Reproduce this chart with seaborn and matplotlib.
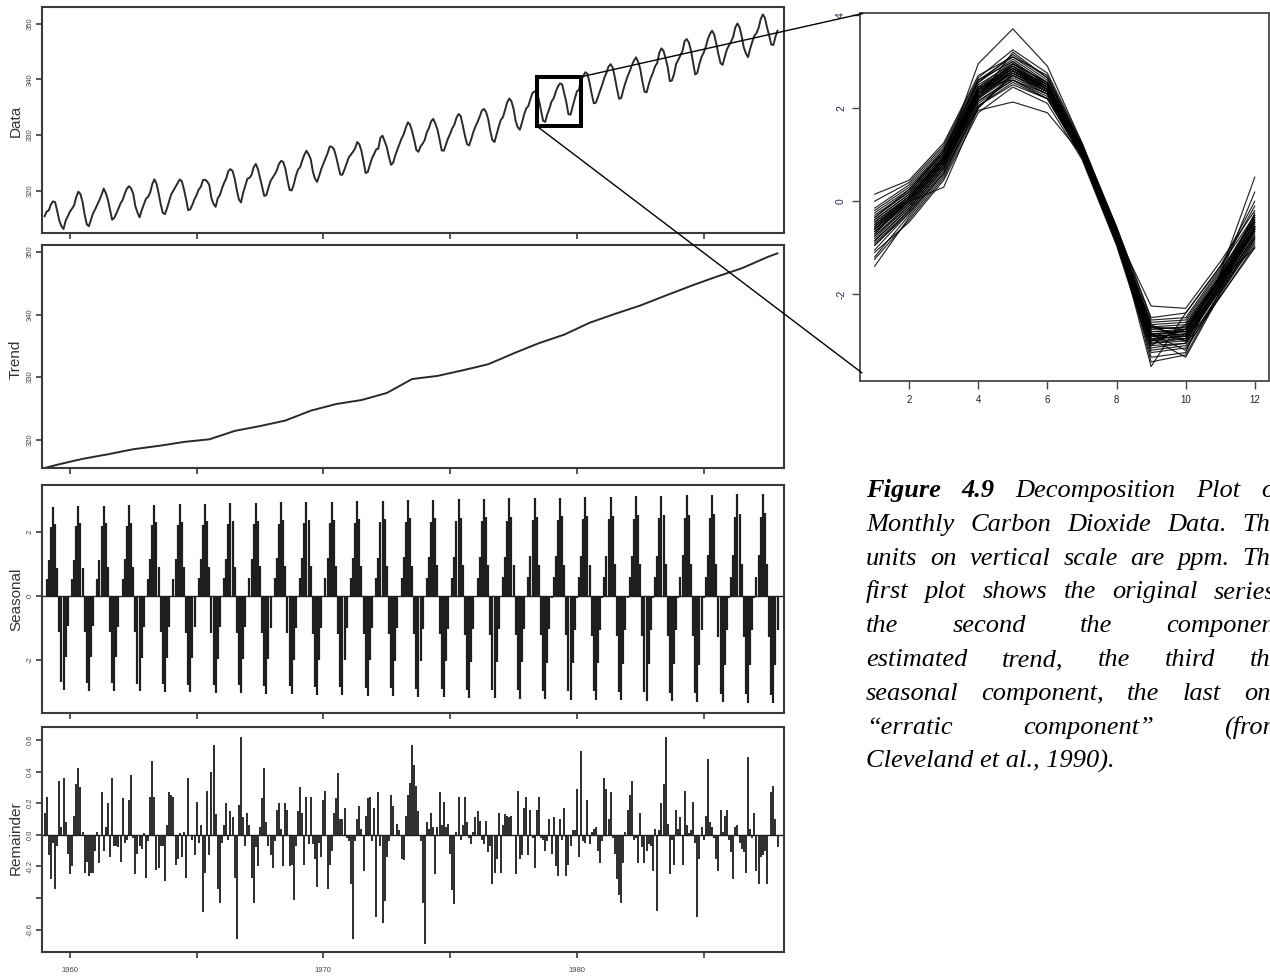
import numpy as np
import pandas as pd
import matplotlib
matplotlib.use("Agg")
import matplotlib.pyplot as plt
import seaborn as sns
from matplotlib.patches import Rectangle, ConnectionPatch

# ---------------------------------------------------------------------------
# Monthly CO2 concentrations (ppm), Mauna Loa, 1959-1987, one row per year
# ---------------------------------------------------------------------------
first_year = 1959
co2_rows = [
    [315.42, 316.31, 316.50, 317.56, 318.13, 318.00, 316.39, 314.65, 313.68, 313.18, 314.66, 315.43],
    [316.27, 316.81, 317.42, 318.87, 319.87, 319.43, 318.01, 315.74, 314.00, 313.68, 314.84, 316.03],
    [316.73, 317.54, 318.38, 319.31, 320.42, 319.61, 318.42, 316.63, 314.83, 315.16, 315.94, 316.85],
    [317.78, 318.40, 319.53, 320.42, 320.85, 320.45, 319.45, 317.25, 316.11, 315.27, 316.53, 317.53],
    [318.58, 318.92, 319.70, 321.22, 322.08, 321.31, 319.58, 317.61, 316.05, 315.83, 316.91, 318.20],
    [319.41, 320.07, 320.74, 321.40, 322.06, 321.73, 320.27, 318.54, 316.54, 316.71, 317.53, 318.55],
    [319.27, 320.28, 320.73, 321.97, 322.00, 321.71, 321.05, 318.71, 317.66, 317.14, 318.70, 319.25],
    [320.46, 321.43, 322.23, 323.54, 323.91, 323.59, 322.24, 320.20, 318.48, 317.94, 319.63, 320.87],
    [322.17, 322.34, 322.88, 324.25, 324.83, 323.93, 322.38, 320.76, 319.10, 319.24, 320.56, 321.80],
    [322.40, 322.99, 323.73, 324.86, 325.40, 325.20, 323.98, 321.95, 320.18, 320.09, 321.16, 322.74],
    [323.83, 324.26, 325.47, 326.50, 327.21, 326.54, 325.72, 323.50, 322.22, 321.62, 322.69, 323.95],
    [324.89, 325.82, 326.77, 327.97, 327.91, 327.50, 326.18, 324.53, 322.93, 322.90, 323.85, 324.96],
    [326.01, 326.51, 327.01, 327.62, 328.76, 328.40, 327.20, 325.27, 323.20, 323.40, 324.63, 325.85],
    [326.60, 327.47, 327.58, 329.56, 329.90, 328.92, 327.88, 326.16, 324.68, 325.04, 326.34, 327.39],
    [328.37, 329.40, 330.14, 331.33, 332.31, 331.90, 330.70, 329.15, 327.35, 327.02, 327.99, 328.48],
    [329.18, 330.55, 331.32, 332.48, 332.92, 332.08, 331.01, 329.23, 327.27, 327.21, 328.29, 329.41],
    [330.23, 331.25, 331.87, 333.14, 333.80, 333.43, 331.73, 329.90, 328.40, 328.17, 329.32, 330.59],
    [331.58, 332.39, 333.33, 334.41, 334.71, 334.17, 332.89, 330.77, 329.14, 328.78, 330.14, 331.52],
    [332.75, 333.24, 334.53, 335.90, 336.57, 336.10, 334.76, 332.59, 331.42, 330.98, 332.24, 333.68],
    [334.80, 335.22, 336.47, 337.59, 337.84, 337.72, 336.37, 334.51, 332.60, 332.38, 333.75, 334.78],
    [336.05, 336.59, 337.79, 338.71, 339.30, 339.12, 337.56, 335.92, 333.75, 333.70, 335.12, 336.56],
    [337.84, 338.19, 339.91, 340.60, 341.29, 341.00, 339.39, 337.43, 335.72, 335.84, 336.93, 338.04],
    [339.06, 340.30, 341.21, 342.33, 342.74, 342.08, 340.32, 338.26, 336.52, 336.68, 338.19, 339.44],
    [340.57, 341.44, 342.53, 343.39, 343.96, 343.18, 341.88, 339.65, 337.81, 337.69, 339.09, 340.32],
    [341.20, 342.35, 342.93, 344.77, 345.58, 345.14, 343.81, 342.21, 339.69, 339.82, 340.98, 342.82],
    [343.52, 344.33, 345.11, 346.88, 347.25, 346.62, 345.22, 343.11, 340.90, 341.18, 342.80, 344.04],
    [344.79, 345.82, 347.25, 348.17, 348.74, 348.07, 346.38, 344.51, 342.92, 342.62, 344.06, 345.38],
    [346.11, 346.78, 347.68, 349.37, 350.03, 349.37, 347.76, 345.73, 344.68, 343.99, 345.48, 346.72],
    [347.84, 348.29, 349.23, 350.80, 351.66, 351.07, 349.33, 347.92, 346.27, 346.18, 347.64, 348.78],
]

# Trend component, sampled every half year (decimal year, ppm)
trend_time = [1959.0, 1959.5, 1960.0, 1960.5, 1961.0, 1961.5, 1962.0, 1962.5, 1963.0, 1963.5,
              1964.0, 1964.5, 1965.0, 1965.5, 1966.0, 1966.5, 1967.0, 1967.5, 1968.0, 1968.5,
              1969.0, 1969.5, 1970.0, 1970.5, 1971.0, 1971.5, 1972.0, 1972.5, 1973.0, 1973.5,
              1974.0, 1974.5, 1975.0, 1975.5, 1976.0, 1976.5, 1977.0, 1977.5, 1978.0, 1978.5,
              1979.0, 1979.5, 1980.0, 1980.5, 1981.0, 1981.5, 1982.0, 1982.5, 1983.0, 1983.5,
              1984.0, 1984.5, 1985.0, 1985.5, 1986.0, 1986.5, 1987.0, 1987.5, 1987.92]
trend_value = [315.45, 315.97, 316.45, 316.91, 317.28, 317.64, 318.05, 318.45, 318.72, 318.99,
               319.30, 319.62, 319.83, 320.04, 320.70, 321.38, 321.77, 322.16, 322.60, 323.04,
               323.83, 324.62, 325.15, 325.68, 326.00, 326.32, 326.88, 327.45, 328.56, 329.68,
               329.93, 330.18, 330.63, 331.08, 331.56, 332.05, 332.90, 333.78, 334.60, 335.41,
               336.10, 336.78, 337.73, 338.68, 339.39, 340.10, 340.77, 341.44, 342.23, 343.03,
               343.80, 344.58, 345.31, 346.04, 346.71, 347.39, 348.27, 349.16, 349.80]

# Seasonal component (ppm), one row per year, Jan..Dec
seasonal_rows = [
    [-0.05, 0.52, 1.12, 2.15, 2.78, 2.25, 0.88, -1.12, -2.70, -2.94, -1.90, -0.95],
    [-0.05, 0.52, 1.13, 2.16, 2.79, 2.26, 0.88, -1.13, -2.71, -2.95, -1.91, -0.95],
    [-0.05, 0.53, 1.13, 2.17, 2.81, 2.27, 0.89, -1.13, -2.73, -2.97, -1.92, -0.96],
    [-0.05, 0.53, 1.14, 2.18, 2.82, 2.28, 0.89, -1.14, -2.74, -2.98, -1.93, -0.96],
    [-0.05, 0.53, 1.14, 2.19, 2.84, 2.30, 0.90, -1.14, -2.75, -3.00, -1.94, -0.97],
    [-0.05, 0.53, 1.15, 2.20, 2.85, 2.31, 0.90, -1.15, -2.77, -3.01, -1.95, -0.97],
    [-0.05, 0.54, 1.15, 2.21, 2.86, 2.32, 0.91, -1.15, -2.78, -3.03, -1.96, -0.98],
    [-0.05, 0.54, 1.16, 2.23, 2.88, 2.33, 0.91, -1.16, -2.79, -3.04, -1.97, -0.98],
    [-0.05, 0.54, 1.16, 2.24, 2.89, 2.34, 0.92, -1.16, -2.81, -3.06, -1.98, -0.99],
    [-0.05, 0.54, 1.17, 2.25, 2.91, 2.35, 0.92, -1.17, -2.82, -3.07, -1.99, -0.99],
    [-0.05, 0.55, 1.18, 2.26, 2.92, 2.36, 0.92, -1.18, -2.84, -3.09, -2.00, -1.00],
    [-0.05, 0.55, 1.18, 2.27, 2.93, 2.37, 0.93, -1.18, -2.85, -3.10, -2.00, -1.00],
    [-0.05, 0.55, 1.19, 2.28, 2.95, 2.39, 0.93, -1.19, -2.86, -3.12, -2.01, -1.01],
    [-0.05, 0.55, 1.19, 2.29, 2.96, 2.40, 0.94, -1.19, -2.88, -3.13, -2.02, -1.01],
    [-0.05, 0.56, 1.20, 2.30, 2.97, 2.41, 0.94, -1.20, -2.89, -3.15, -2.03, -1.02],
    [-0.05, 0.56, 1.20, 2.31, 2.99, 2.42, 0.95, -1.20, -2.90, -3.16, -2.04, -1.02],
    [-0.05, 0.56, 1.21, 2.32, 3.00, 2.43, 0.95, -1.21, -2.92, -3.18, -2.05, -1.03],
    [-0.05, 0.56, 1.22, 2.33, 3.02, 2.44, 0.95, -1.22, -2.93, -3.19, -2.06, -1.03],
    [-0.05, 0.57, 1.22, 2.34, 3.03, 2.45, 0.96, -1.22, -2.94, -3.20, -2.07, -1.04],
    [-0.05, 0.57, 1.23, 2.35, 3.04, 2.46, 0.96, -1.23, -2.96, -3.22, -2.08, -1.04],
    [-0.06, 0.57, 1.23, 2.37, 3.06, 2.48, 0.97, -1.23, -2.97, -3.23, -2.09, -1.05],
    [-0.06, 0.57, 1.24, 2.38, 3.07, 2.49, 0.97, -1.24, -2.98, -3.25, -2.10, -1.05],
    [-0.06, 0.58, 1.24, 2.39, 3.09, 2.50, 0.98, -1.24, -3.00, -3.26, -2.11, -1.05],
    [-0.06, 0.58, 1.25, 2.40, 3.10, 2.51, 0.98, -1.25, -3.01, -3.28, -2.12, -1.06],
    [-0.06, 0.58, 1.25, 2.41, 3.11, 2.52, 0.99, -1.25, -3.02, -3.29, -2.13, -1.06],
    [-0.06, 0.59, 1.26, 2.42, 3.13, 2.53, 0.99, -1.26, -3.04, -3.31, -2.14, -1.07],
    [-0.06, 0.59, 1.27, 2.43, 3.14, 2.54, 0.99, -1.27, -3.05, -3.32, -2.15, -1.07],
    [-0.06, 0.59, 1.27, 2.44, 3.16, 2.55, 1.00, -1.27, -3.06, -3.34, -2.16, -1.08],
    [-0.06, 0.59, 1.28, 2.45, 3.17, 2.57, 1.00, -1.28, -3.08, -3.35, -2.17, -1.08],
]

# Remainder component (ppm), monthly, in three consecutive stretches
remainder_1959_1968 = [
    0.14, 0.24, -0.13, -0.28, -0.05, -0.34, -0.07, 0.34, 0.05, 0.36, 0.08, -0.12,
    -0.25, -0.20, 0.12, 0.32, 0.42, 0.30, 0.02, -0.24, -0.17, -0.26, -0.24, -0.24,
    -0.10, 0.02, -0.18, 0.27, -0.10, 0.05, 0.20, -0.14, 0.36, -0.07, -0.07, -0.08,
    -0.17, 0.23, -0.05, -0.03, 0.22, 0.38, -0.02, -0.25, -0.12, -0.07, -0.09, 0.01,
    -0.27, -0.04, 0.24, 0.47, 0.24, -0.22, -0.21, -0.07, -0.07, -0.29, 0.06, 0.27,
    0.25, 0.24, -0.19, -0.15, 0.01, -0.14, 0.02, -0.27, 0.36, 0.00, -0.03, -0.13,
    0.21, -0.05, 0.06, -0.49, -0.24, 0.28, -0.13, 0.40, 0.57, 0.13, -0.34, -0.43,
    -0.05, 0.06, 0.20, -0.03, 0.15, 0.11, -0.27, -0.66, 0.19, 0.62, 0.11, -0.07,
    0.14, 0.06, -0.27, -0.43, -0.08, -0.20, 0.05, 0.23, 0.42, 0.08, -0.07, -0.13,
    -0.21, -0.04, 0.16, 0.20, 0.04, -0.20, 0.20, 0.16, -0.20,
]
remainder_1968_1978 = [
    -0.19, -0.41, -0.07, 0.15, 0.30, 0.14, -0.19, 0.24, -0.06, 0.24, -0.06, -0.15,
    -0.33, -0.05, -0.14, 0.22, 0.28, -0.34, -0.19, -0.10, 0.14, 0.23, 0.39, 0.10,
    0.10, 0.17, -0.02, -0.04, -0.31, -0.66, -0.04, 0.10, 0.18, 0.04, -0.23, 0.12,
    0.23, 0.24, -0.04, 0.17, -0.52, 0.27, -0.07, -0.56, -0.42, -0.14, -0.04, 0.25,
    0.18, 0.00, 0.07, 0.03, -0.15, -0.16, 0.12, 0.25, 0.33, 0.57, 0.44, 0.31,
    0.15, -0.04, -0.43, -0.69, 0.08, 0.04, 0.14, 0.05, -0.25, 0.05, 0.27, 0.06,
    0.21, 0.05, 0.07, -0.12, -0.35, -0.44, 0.02, 0.24, -0.03, 0.06, 0.24, 0.08,
    -0.02, -0.06, 0.02, 0.11, 0.15, 0.09, -0.03, -0.06, 0.09, -0.11, -0.07, -0.31,
    -0.24, -0.15, 0.14, -0.24, 0.06, 0.13, 0.12, 0.11, 0.12, -0.01, -0.25, 0.28,
    -0.15, -0.13, 0.17, 0.24, -0.13, 0.16, -0.02, -0.21,
]
remainder_1978_1987 = [
    0.16, 0.24, -0.02, -0.03, -0.10, -0.04, 0.10, -0.12, 0.11, -0.20, -0.26, 0.10,
    -0.03, 0.17, -0.26, -0.19, -0.07, 0.03, 0.03, 0.29, -0.14, 0.53, -0.04, -0.05,
    0.22, -0.06, 0.02, 0.04, 0.05, -0.10, -0.18, -0.04, 0.36, 0.29, 0.10, 0.27,
    -0.02, -0.12, -0.28, -0.38, -0.43, -0.18, 0.02, 0.16, 0.25, 0.34, -0.03, -0.02,
    -0.18, 0.14, -0.08, -0.18, -0.10, -0.06, -0.07, -0.23, 0.04, -0.48, 0.03, 0.20,
    0.32, 0.62, 0.07, -0.25, -0.03, -0.19, 0.16, 0.04, 0.11, -0.19, 0.28, 0.06,
    0.01, 0.03, 0.21, -0.05, -0.52, -0.15, 0.05, -0.03, 0.12, 0.48, 0.08, 0.05,
    -0.02, -0.15, -0.23, 0.16, 0.02, 0.12, 0.16, -0.03, -0.11, -0.28, 0.05, 0.06,
    -0.05, -0.09, -0.11, -0.24, 0.49, 0.04, -0.02, 0.14, -0.23, -0.31, -0.14, -0.13,
    -0.10, -0.31, 0.00, 0.27, 0.31, 0.10, -0.08,
]

# Detrended monthly cycles, one row per year, months 1..12
cycle_rows = [
    [-0.45, 0.10, 0.95, 2.40, 2.85, 2.45, 1.10, -0.70, -2.80, -2.75, -1.70, -0.45],
    [-0.60, 0.00, 0.85, 2.30, 2.75, 2.40, 1.05, -0.75, -2.90, -2.85, -1.75, -0.55],
    [-0.75, -0.10, 0.80, 2.25, 2.70, 2.35, 1.00, -0.80, -2.95, -2.90, -1.80, -0.60],
    [-0.30, 0.20, 1.05, 2.50, 2.95, 2.55, 1.15, -0.65, -2.70, -2.65, -1.60, -0.35],
    [-0.90, -0.20, 0.70, 2.15, 2.60, 2.30, 0.95, -0.85, -3.05, -3.00, -1.90, -0.70],
    [-0.55, 0.05, 0.90, 2.35, 2.80, 2.45, 1.10, -0.70, -2.85, -2.80, -1.65, -0.50],
    [-1.40, -0.35, 0.55, 2.05, 2.50, 2.20, 0.95, -0.90, -3.20, -3.10, -1.95, -0.80],
    [0.15, 0.45, 1.25, 2.70, 3.10, 2.60, 1.20, -0.55, -2.50, -2.40, -1.40, 0.00],
    [-0.65, -0.05, 0.85, 2.30, 2.90, 2.40, 1.05, -0.75, -2.90, -2.95, -1.80, -0.55],
    [-0.50, 0.10, 0.90, 2.95, 3.70, 2.90, 1.25, -0.60, -3.35, -3.25, -1.55, 0.52],
    [-0.85, -0.15, 0.75, 2.20, 3.20, 2.65, 1.15, -0.70, -2.60, -2.55, -1.50, -0.40],
    [-0.40, 0.15, 1.00, 1.95, 2.13, 1.90, 1.00, -0.80, -3.10, -3.05, -1.85, -0.65],
    [-1.05, -0.25, 0.65, 2.15, 2.65, 2.30, 1.00, -0.85, -3.00, -2.95, -1.85, -0.75],
    [-0.20, 0.30, 1.10, 2.55, 3.05, 2.55, 1.15, -0.65, -2.65, -2.60, -1.55, -0.30],
    [-0.70, 0.00, 0.30, 2.00, 2.75, 2.35, 1.05, -0.75, -2.85, -2.80, -1.70, -0.55],
    [-0.60, 0.05, 0.90, 2.35, 2.85, 2.40, 1.10, -0.70, -3.55, -2.40, -1.40, -0.30],
    [-0.95, -0.20, 0.70, 2.20, 2.70, 2.30, 1.00, -0.80, -2.95, -3.35, -2.00, -0.85],
    [-0.35, 0.20, 1.05, 2.45, 3.00, 2.50, 1.15, -0.65, -2.75, -2.70, -1.65, -0.40],
    [-0.80, -0.10, 0.80, 2.25, 2.80, 2.40, 1.05, -0.75, -2.90, -2.85, -1.80, -0.65],
    [-0.55, 0.05, 0.95, 2.40, 2.90, 2.45, 1.10, -0.70, -2.25, -2.30, -1.30, -0.20],
    [-1.20, -0.30, 0.60, 2.10, 2.60, 2.25, 0.95, -0.90, -3.15, -3.05, -2.05, -0.95],
    [-0.25, 0.25, 1.05, 2.60, 3.00, 2.50, 1.10, -0.65, -2.70, -2.75, -1.60, -0.35],
    [-0.65, 0.00, 0.85, 2.30, 2.80, 2.40, 1.05, -0.75, -2.95, -2.90, -1.75, -0.55],
    [-0.45, 0.10, 0.95, 2.40, 2.85, 2.50, 1.10, -0.70, -2.80, -2.80, -1.70, -0.45],
    [-0.75, -0.05, 0.80, 2.25, 2.75, 2.35, 1.05, -0.80, -3.00, -2.85, -1.80, -0.60],
    [-0.50, 0.05, 0.90, 2.35, 2.95, 2.45, 1.10, -0.70, -2.85, -3.00, -1.85, -0.60],
    [-0.60, 0.00, 0.85, 2.30, 2.85, 2.40, 1.05, -0.75, -2.90, -2.75, -1.70, -1.00],
    [-0.85, -0.15, 0.75, 2.20, 2.80, 2.35, 1.00, -0.80, -3.05, -2.95, -1.90, -0.75],
    [-0.40, 0.15, 1.00, 2.45, 2.90, 2.50, 1.15, -0.70, -2.75, -2.70, -1.65, -0.45],
    [-1.10, -0.45, 0.45, 1.90, 2.45, 2.10, 0.90, -0.95, -3.25, -3.15, -2.05, -1.00],
    [0.00, 0.40, 1.20, 2.65, 3.25, 2.75, 1.25, -0.55, -2.55, -2.50, -1.45, -0.10],
    [-0.70, 0.05, 0.90, 2.40, 2.95, 2.55, 1.10, -0.60, -3.45, -3.30, -1.95, -0.80],
    [-0.35, 0.25, 1.10, 2.55, 3.15, 2.65, 1.20, -0.60, -2.65, -3.00, -1.75, -0.25],
    [-0.95, -0.25, 0.60, 2.05, 2.55, 2.20, 0.95, -0.85, -3.10, -2.65, -1.60, -0.60],
    [-0.55, 0.10, 0.95, 2.45, 2.60, 2.20, 1.05, -0.70, -2.85, -3.20, -1.95, -0.90],
    [-0.15, 0.35, 1.15, 2.60, 3.10, 2.70, 1.20, -0.60, -2.70, -2.90, -1.60, 0.20],
    [-1.25, -0.40, 0.50, 2.00, 2.70, 2.35, 1.00, -0.90, -3.00, -2.75, -1.70, -0.55],
]

panel_names = ["Data", "Trend", "Seasonal", "Remainder"]
year_ticks = [1960, 1965, 1970, 1975, 1980, 1985]
year_labels = ["1960", "", "1970", "", "1980", ""]
cycle_xticks = [2, 4, 6, 8, 10, 12]
cycle_yticks = [-2, 0, 2, 4]

caption_lines = [
    [("Figure", "bold"), ("4.9", "bold"), ("Decomposition", "normal"), ("Plot", "normal"), ("of", "normal")],
    "Monthly Carbon Dioxide Data. The",
    "units on vertical scale are ppm. The",
    "first plot shows the original series,",
    "the second the component",
    "estimated trend, the third the",
    "seasonal component, the last one",
    "\u201cerratic component\u201d (from",
    "Cleveland et al., 1990).",
]

# ---------------------------------------------------------------------------
# Tidy frames
# ---------------------------------------------------------------------------
def monthly_frame(rows):
    vals = np.asarray(rows, dtype=float).ravel()
    t = first_year + np.arange(vals.size) / 12.0
    return pd.DataFrame({"time": t, "value": vals})

df_data = monthly_frame(co2_rows)
df_trend = pd.DataFrame({"time": trend_time, "value": trend_value})
df_seas = monthly_frame(seasonal_rows)
df_rem = monthly_frame(remainder_1959_1968 + remainder_1968_1978 + remainder_1978_1987)

cyc = np.asarray(cycle_rows, dtype=float)
df_cycle = pd.DataFrame({
    "month": np.tile(np.arange(1, 13), cyc.shape[0]),
    "value": cyc.ravel(),
    "year": np.repeat(np.arange(cyc.shape[0]), 12),
})

# ---------------------------------------------------------------------------
# Figure
# ---------------------------------------------------------------------------
sns.set_theme(style="white")
plt.rcParams["font.family"] = ["Liberation Sans", "DejaVu Sans"]

W, H = 1270, 976
fig = plt.figure(figsize=(W / 100, H / 100), dpi=100)


def px_box(left, top, right, bottom):
    return [left / W, 1 - bottom / H, (right - left) / W, (bottom - top) / H]


ink = "#2a2a2a"
frame = "#3a3a3a"

panel_boxes = [(42, 7, 784, 233), (42, 245, 784, 468), (42, 485, 784, 713), (42, 727, 784, 952)]
ylims = [(312.45, 353.0), (315.45, 351.12), (-3.65, 3.45), (-0.741, 0.682)]
yticks = [[320, 330, 340, 350], [320, 330, 340, 350], [-2, 0, 2], [-0.6, -0.4, -0.2, 0.0, 0.2, 0.4, 0.6]]
ytick_labels = [["320", "330", "340", "350"], ["320", "330", "340", "350"], ["-2", "0", "2"],
                ["-0.6", "", "-0.2", "0.0", "0.2", "0.4", "0.6"]]

axes = []
for i, b in enumerate(panel_boxes):
    ax = fig.add_axes(px_box(*b))
    ax.set_xlim(1958.9, 1988.17)
    ax.set_ylim(*ylims[i])
    for s in ax.spines.values():
        s.set_color(frame)
        s.set_linewidth(1.5)
    ax.set_yticks(yticks[i])
    ax.set_yticklabels(ytick_labels[i], rotation=90, va="center", fontsize=5.5, color="#444444")
    ax.set_xticks(year_ticks)
    if i == 3:
        ax.set_xticklabels(year_labels, fontsize=5.5, color="#444444")
    else:
        ax.set_xticklabels([])
    ax.tick_params(axis="both", direction="out", length=4, width=1.2, color=frame, pad=2,
                   left=True, bottom=True)
    ax.tick_params(axis="x", pad=7)
    axes.append(ax)

ax_data, ax_trend, ax_seas, ax_rem = axes

sns.lineplot(data=df_data, x="time", y="value", ax=ax_data, color=ink, linewidth=1.4,
             estimator=None, sort=False)
sns.lineplot(data=df_trend, x="time", y="value", ax=ax_trend, color=ink, linewidth=1.4,
             estimator=None, sort=False)

ax_seas.vlines(df_seas["time"], 0, df_seas["value"], color="#1e1e1e", linewidth=1.6)
ax_seas.axhline(0, color="#1e1e1e", linewidth=1.0)
ax_rem.vlines(df_rem["time"], 0, df_rem["value"], color="#2c2c2c", linewidth=1.4)
ax_rem.axhline(0, color="#1e1e1e", linewidth=1.0)

for ax in axes:
    ax.set_xlabel("")
    ax.set_ylabel("")

label_centres = [121, 359, 599, 838]
for name, yc in zip(panel_names, label_centres):
    fig.text(16 / W, 1 - yc / H, name, rotation=90, ha="center", va="center",
             fontsize=11, color="#333333")

# Highlight box on the data panel
box_x0, box_x1 = 1978.42, 1980.17
box_y0, box_y1 = 331.62, 340.48
ax_data.add_patch(Rectangle((box_x0, box_y0), box_x1 - box_x0, box_y1 - box_y0,
                            fill=False, edgecolor="black", linewidth=2.9, zorder=5))

# Monthly cycle panel on the right
ax_cyc = fig.add_axes(px_box(860, 13.5, 1269, 381))
sns.lineplot(data=df_cycle, x="month", y="value", units="year", estimator=None,
             ax=ax_cyc, color="black", linewidth=0.85, alpha=0.85, sort=False)
ax_cyc.set_xlim(0.58, 12.41)
ax_cyc.set_ylim(-3.86, 4.03)
ax_cyc.set_xticks(cycle_xticks)
ax_cyc.set_xticklabels([str(v) for v in cycle_xticks], fontsize=7, color="#222222")
ax_cyc.set_yticks(cycle_yticks)
ax_cyc.set_yticklabels([str(v) for v in cycle_yticks], rotation=90, va="center",
                       fontsize=7.5, color="#1c2a48")
ax_cyc.tick_params(axis="both", direction="out", length=6, width=1.0, color="#444444",
                   pad=4, left=True, bottom=True)
ax_cyc.set_xlabel("")
ax_cyc.set_ylabel("")
for s in ax_cyc.spines.values():
    s.set_color("#555555")
    s.set_linewidth(1.4)

# Connector lines from the box to the cycle panel
for (xa, ya), (xb, yb) in [((box_x1, box_y1), (0.007, 1.0)), ((box_x0, box_y0), (0.005, 0.022))]:
    con = ConnectionPatch(xyA=(xa, ya), coordsA="data", axesA=ax_data,
                          xyB=(xb, yb), coordsB="axes fraction", axesB=ax_cyc,
                          color="black", linewidth=1.0)
    fig.add_artist(con)

# ---------------------------------------------------------------------------
# Justified caption (the right margin runs past the page edge)
# ---------------------------------------------------------------------------
cap_font = "Liberation Serif"
cap_size = 19
cap_x0, cap_x1 = 866, 1282
base0, line_step = 497, 33.8

fig.canvas.draw()
renderer = fig.canvas.get_renderer()


def measure(word, weight):
    t = fig.text(0, 0, word, fontsize=cap_size, family=cap_font, style="italic", weight=weight)
    w = t.get_window_extent(renderer).width
    t.remove()
    return w


for k, line in enumerate(caption_lines):
    baseline = base0 + k * line_step
    y = 1 - baseline / H
    if isinstance(line, str):
        words = [(w, "normal") for w in line.split(" ")]
    else:
        words = line
    if k == len(caption_lines) - 1:
        fig.text(cap_x0 / W, y, " ".join(w for w, _ in words), fontsize=cap_size,
                 family=cap_font, style="italic", va="baseline", ha="left", color="black")
        continue
    widths = [measure(w, wt) for w, wt in words]
    gap = (cap_x1 - cap_x0 - sum(widths)) / (len(words) - 1)
    x = cap_x0
    for (w, wt), wd in zip(words, widths):
        fig.text(x / W, y, w, fontsize=cap_size, family=cap_font, style="italic",
                 weight=wt, va="baseline", ha="left", color="black")
        x += wd + gap

fig.savefig("out.png", dpi=100, facecolor="white")
